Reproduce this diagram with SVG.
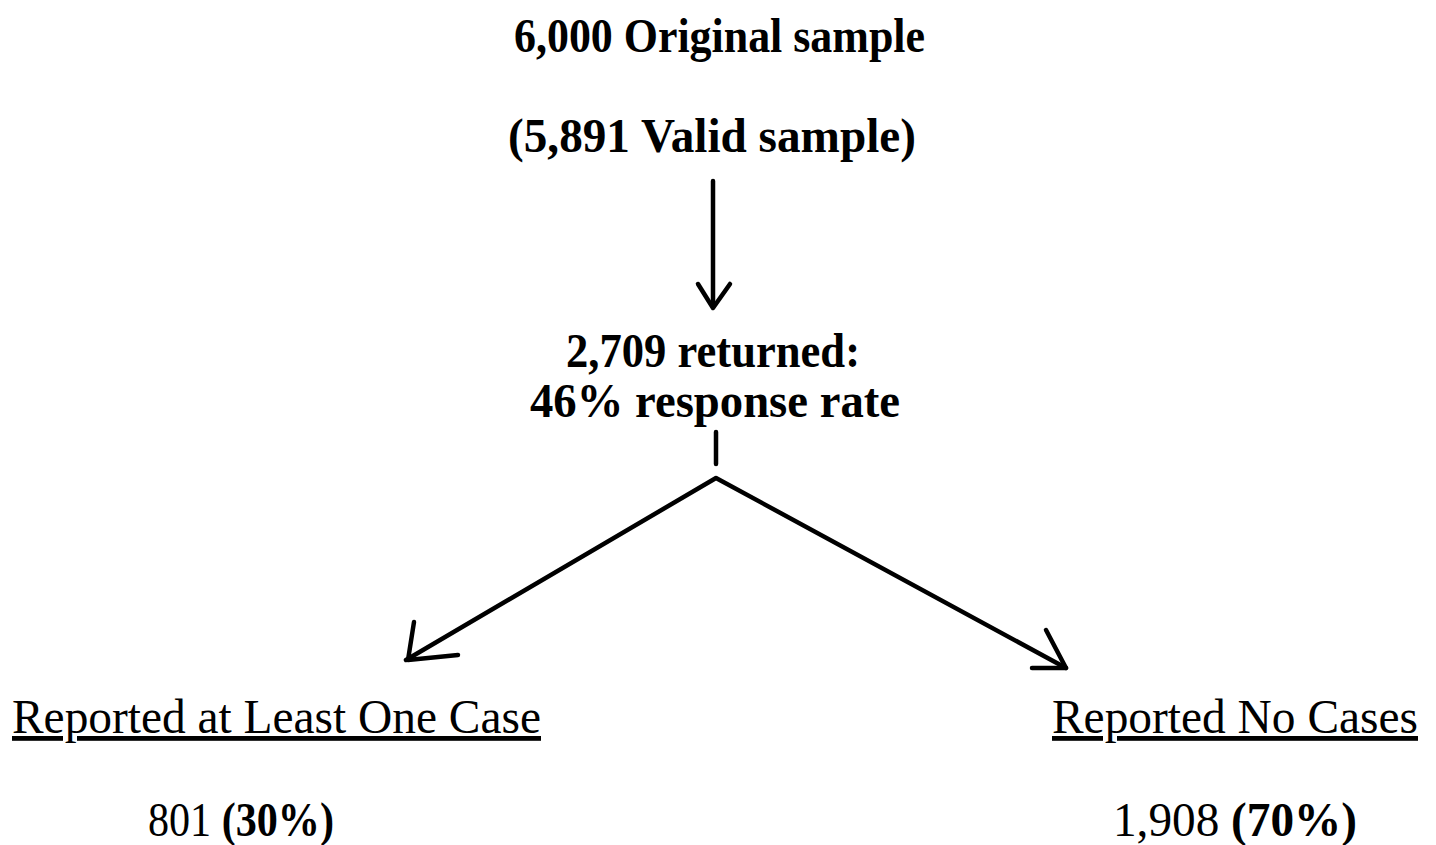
<svg xmlns="http://www.w3.org/2000/svg" width="1436" height="845" viewBox="0 0 1436 845">
<style>
text{font-family:"Liberation Serif","Times New Roman",serif;fill:#000}
.b{font-weight:bold}
.t{font-size:48px}
.u{text-decoration:underline}
.ln{stroke:#000;stroke-width:4.5;fill:none;stroke-linecap:round;stroke-linejoin:round}
</style>
<rect width="1436" height="845" fill="#fff"/>
<g id="n-original">
<text class="t b" x="514" y="52" textLength="411" lengthAdjust="spacingAndGlyphs">6,000 Original sample</text>
<text class="t b" x="508" y="152" textLength="408" lengthAdjust="spacingAndGlyphs">(5,891 Valid sample)</text>
</g>
<g id="n-returned">
<text class="t" x="566" y="367" style="font-weight:600" textLength="294" lengthAdjust="spacingAndGlyphs">2,709 returned:</text>
<text class="t b" x="530" y="417" textLength="370" lengthAdjust="spacingAndGlyphs">46% response rate</text>
</g>
<g id="n-atleast">
<text class="t u" x="12" y="733" textLength="529" lengthAdjust="spacingAndGlyphs">Reported at Least One Case</text>
<text class="t" x="148" y="836" textLength="186" lengthAdjust="spacingAndGlyphs">801 <tspan class="b">(30%)</tspan></text>
</g>
<g id="n-nocases">
<text class="t u" x="1052" y="733" textLength="366" lengthAdjust="spacingAndGlyphs">Reported No Cases</text>
<text class="t" x="1113" y="836" textLength="244" lengthAdjust="spacingAndGlyphs">1,908 <tspan class="b">(70%)</tspan></text>
</g>
<g id="connectors">
<path class="ln" d="M713 181 L713 306"/>
<path class="ln" d="M698 284 L713 308 L730 284"/>
<path class="ln" d="M716 432 L716 464"/>
<path class="ln" d="M406 660 L716 478 L1066 668"/>
<path class="ln" d="M414 622 L408 660 L458 655"/>
<path class="ln" d="M1046 630 L1066 668 L1032 668"/>
</g>
</svg>
